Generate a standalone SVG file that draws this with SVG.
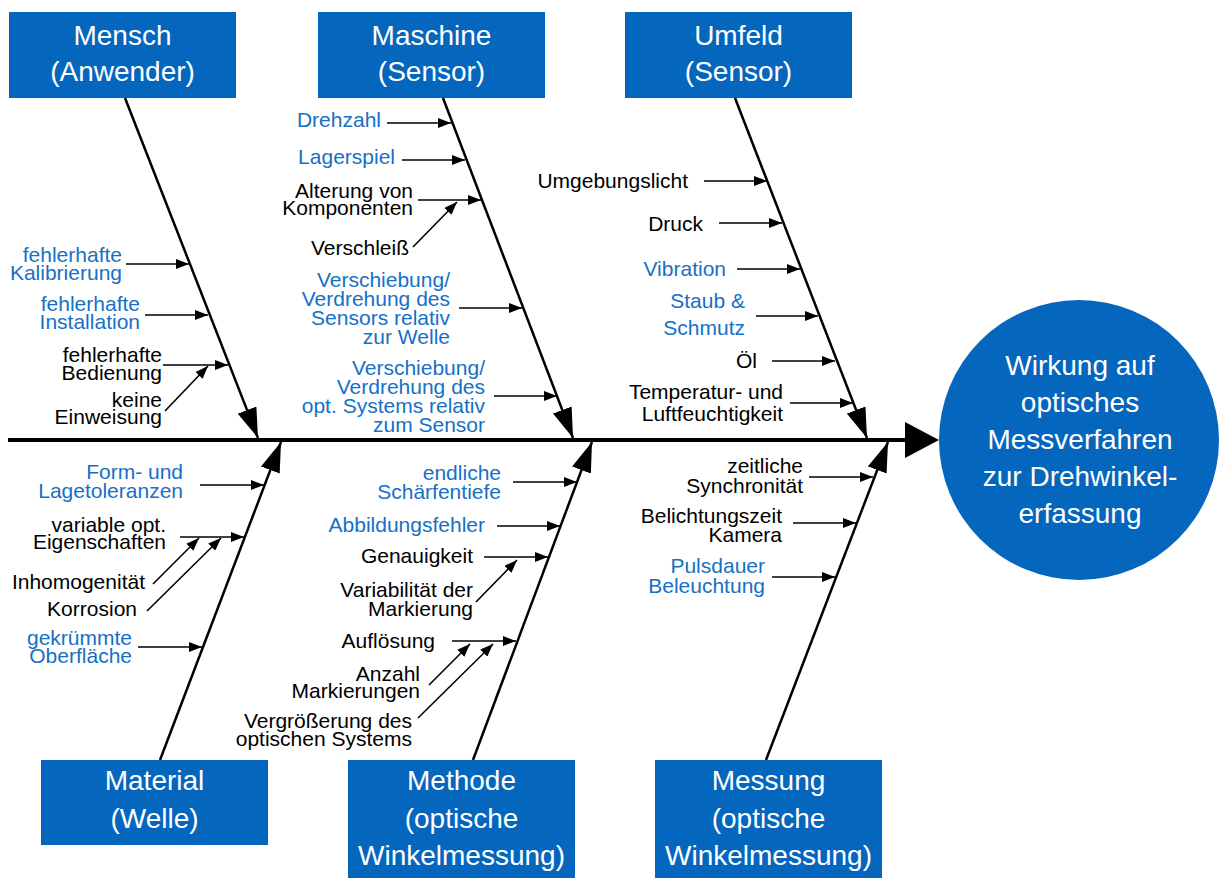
<svg xmlns="http://www.w3.org/2000/svg" width="1219" height="878" viewBox="0 0 1219 878">
<defs>
<marker id="big" markerUnits="userSpaceOnUse" markerWidth="30" markerHeight="20" refX="30" refY="10" orient="auto"><path d="M0,0 L30,10 L0,20 z" fill="#000"/></marker>
<marker id="sm" markerUnits="userSpaceOnUse" markerWidth="13" markerHeight="10" refX="13" refY="5" orient="auto"><path d="M0,0 L13,5 L0,10 z" fill="#000"/></marker>
<style>
.box{fill:#0566BE}
.bt{font-family:"Liberation Sans",Arial,sans-serif;font-size:28px;fill:#fff;text-anchor:middle}
.t{font-family:"Liberation Sans",Arial,sans-serif;font-size:21px;fill:#000;text-anchor:end}
.b{fill:#1670C6}
.bone{stroke:#000;stroke-width:2.5;fill:none;marker-end:url(#big)}
.sa{stroke:#000;stroke-width:1.6;fill:none;marker-end:url(#sm)}
</style>
</defs>
<rect width="1219" height="878" fill="#fff"/>

<g id="spine">
<line x1="8" y1="440" x2="908" y2="440" stroke="#000" stroke-width="4"/>
<polygon points="905,422 939,440 905,458" fill="#000"/>
</g>

<g id="effect">
<circle cx="1079" cy="440" r="140" class="box"/>
<text class="bt"><tspan x="1080" y="375">Wirkung auf</tspan><tspan x="1080" y="412">optisches</tspan><tspan x="1080" y="449">Messverfahren</tspan><tspan x="1080" y="486">zur Drehwinkel-</tspan><tspan x="1080" y="523">erfassung</tspan></text>
</g>

<g id="mensch">
<rect x="9" y="12" width="227" height="86" class="box"/>
<text class="bt"><tspan x="122.5" y="45">Mensch</tspan><tspan x="122.5" y="81">(Anwender)</tspan></text>
</g>
<g id="maschine">
<rect x="318" y="12" width="227" height="86" class="box"/>
<text class="bt"><tspan x="431.5" y="45">Maschine</tspan><tspan x="431.5" y="81">(Sensor)</tspan></text>
</g>
<g id="umfeld">
<rect x="625" y="12" width="227" height="86" class="box"/>
<text class="bt"><tspan x="738.5" y="45">Umfeld</tspan><tspan x="738.5" y="81">(Sensor)</tspan></text>
</g>
<g id="material">
<rect x="41" y="760" width="227" height="85" class="box"/>
<text class="bt"><tspan x="154.5" y="790">Material</tspan><tspan x="154.5" y="828">(Welle)</tspan></text>
</g>
<g id="methode">
<rect x="348" y="760" width="227" height="118" class="box"/>
<text class="bt"><tspan x="461.5" y="790">Methode</tspan><tspan x="461.5" y="828">(optische</tspan><tspan x="461.5" y="865">Winkelmessung)</tspan></text>
</g>
<g id="messung">
<rect x="655" y="760" width="227" height="118" class="box"/>
<text class="bt"><tspan x="768.5" y="790">Messung</tspan><tspan x="768.5" y="828">(optische</tspan><tspan x="768.5" y="865">Winkelmessung)</tspan></text>
</g>

<g id="connectors">
<line class="bone" x1="125" y1="98" x2="258" y2="438"/>
<line class="bone" x1="443" y1="98" x2="573" y2="438"/>
<line class="bone" x1="735" y1="98" x2="867" y2="438"/>
<line class="bone" x1="160" y1="760" x2="281" y2="442"/>
<line class="bone" x1="473" y1="760" x2="592" y2="442"/>
<line class="bone" x1="766" y1="760" x2="888" y2="442"/>

<line class="sa" x1="126" y1="264" x2="189" y2="264"/>
<line class="sa" x1="145" y1="315" x2="208" y2="315"/>
<line class="sa" x1="163" y1="365" x2="228" y2="365"/>
<line class="sa" x1="165" y1="411" x2="208" y2="366"/>

<line class="sa" x1="387" y1="123" x2="451" y2="123"/>
<line class="sa" x1="402" y1="160" x2="465" y2="160"/>
<line class="sa" x1="418" y1="200" x2="481" y2="200"/>
<line class="sa" x1="413" y1="247" x2="457" y2="202"/>
<line class="sa" x1="459" y1="308" x2="522" y2="308"/>
<line class="sa" x1="494" y1="396" x2="557" y2="396"/>

<line class="sa" x1="704" y1="181" x2="767" y2="181"/>
<line class="sa" x1="719" y1="223" x2="782" y2="223"/>
<line class="sa" x1="737" y1="269" x2="800" y2="269"/>
<line class="sa" x1="756" y1="316" x2="818" y2="316"/>
<line class="sa" x1="772" y1="361" x2="835" y2="361"/>
<line class="sa" x1="790" y1="403" x2="853" y2="403"/>

<line class="sa" x1="200" y1="485" x2="264" y2="485"/>
<line class="sa" x1="180" y1="537" x2="244" y2="537"/>
<line class="sa" x1="153" y1="584" x2="199" y2="538"/>
<line class="sa" x1="147" y1="611" x2="221" y2="538"/>
<line class="sa" x1="138" y1="647" x2="202" y2="647"/>

<line class="sa" x1="513" y1="482" x2="577" y2="482"/>
<line class="sa" x1="497" y1="526" x2="560" y2="526"/>
<line class="sa" x1="484" y1="557" x2="548" y2="557"/>
<line class="sa" x1="476" y1="602" x2="517" y2="560"/>
<line class="sa" x1="452" y1="641" x2="516" y2="641"/>
<line class="sa" x1="429" y1="685" x2="470" y2="644"/>
<line class="sa" x1="418" y1="718" x2="493" y2="644"/>

<line class="sa" x1="809" y1="477" x2="873" y2="477"/>
<line class="sa" x1="793" y1="523" x2="856" y2="523"/>
<line class="sa" x1="772" y1="577" x2="835" y2="577"/>
</g>

<g id="labels-mensch">
<text class="t b"><tspan x="122" y="262">fehlerhafte</tspan><tspan x="122" y="280">Kalibrierung</tspan></text>
<text class="t b"><tspan x="140" y="311">fehlerhafte</tspan><tspan x="140" y="329">Installation</tspan></text>
<text class="t"><tspan x="162" y="362">fehlerhafte</tspan><tspan x="162" y="380">Bedienung</tspan></text>
<text class="t"><tspan x="162" y="407">keine</tspan><tspan x="162" y="424">Einweisung</tspan></text>
</g>
<g id="labels-maschine">
<text class="t b" x="381" y="127">Drehzahl</text>
<text class="t b" x="395" y="164">Lagerspiel</text>
<text class="t"><tspan x="413" y="198">Alterung von</tspan><tspan x="413" y="215">Komponenten</tspan></text>
<text class="t" x="409" y="255">Verschleiß</text>
<text class="t b"><tspan x="450" y="287">Verschiebung/</tspan><tspan x="450" y="306">Verdrehung des</tspan><tspan x="450" y="325">Sensors relativ</tspan><tspan x="450" y="344">zur Welle</tspan></text>
<text class="t b"><tspan x="485" y="375">Verschiebung/</tspan><tspan x="485" y="394">Verdrehung des</tspan><tspan x="485" y="413">opt. Systems relativ</tspan><tspan x="485" y="432">zum Sensor</tspan></text>
</g>
<g id="labels-umfeld">
<text class="t" x="688" y="188">Umgebungslicht</text>
<text class="t" x="703" y="231">Druck</text>
<text class="t b" x="726" y="276">Vibration</text>
<text class="t b"><tspan x="745" y="308">Staub &amp;</tspan><tspan x="745" y="335">Schmutz</tspan></text>
<text class="t" x="757" y="368">Öl</text>
<text class="t"><tspan x="783" y="399">Temperatur- und</tspan><tspan x="783" y="421">Luftfeuchtigkeit</tspan></text>
</g>
<g id="labels-material">
<text class="t b"><tspan x="183" y="479">Form- und</tspan><tspan x="183" y="498">Lagetoleranzen</tspan></text>
<text class="t"><tspan x="166" y="532">variable opt.</tspan><tspan x="166" y="549">Eigenschaften</tspan></text>
<text class="t" x="145" y="589">Inhomogenität</text>
<text class="t" x="137" y="616">Korrosion</text>
<text class="t b"><tspan x="132" y="645">gekrümmte</tspan><tspan x="132" y="663">Oberfläche</tspan></text>
</g>
<g id="labels-methode">
<text class="t b"><tspan x="501" y="480">endliche</tspan><tspan x="501" y="499">Schärfentiefe</tspan></text>
<text class="t b" x="485" y="532">Abbildungsfehler</text>
<text class="t" x="473" y="563">Genauigkeit</text>
<text class="t"><tspan x="473" y="597">Variabilität der</tspan><tspan x="473" y="616">Markierung</tspan></text>
<text class="t" x="435" y="648">Auflösung</text>
<text class="t"><tspan x="420" y="681">Anzahl</tspan><tspan x="420" y="698">Markierungen</tspan></text>
<text class="t"><tspan x="412" y="728">Vergrößerung des</tspan><tspan x="412" y="746">optischen Systems</tspan></text>
</g>
<g id="labels-messung">
<text class="t"><tspan x="803" y="473">zeitliche</tspan><tspan x="803" y="493">Synchronität</tspan></text>
<text class="t"><tspan x="782" y="523">Belichtungszeit</tspan><tspan x="782" y="542">Kamera</tspan></text>
<text class="t b"><tspan x="765" y="573">Pulsdauer</tspan><tspan x="765" y="593">Beleuchtung</tspan></text>
</g>
</svg>
